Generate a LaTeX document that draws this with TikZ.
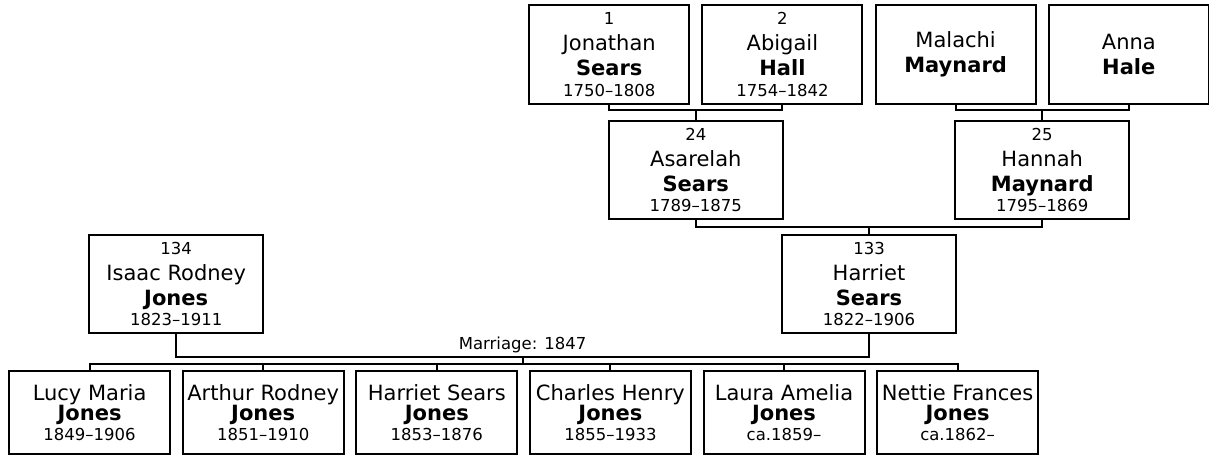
\documentclass[tikz,border=0pt]{standalone}
\usepackage{fontspec}
\setmainfont{DejaVu Sans}
\usepackage{tikz}
\usetikzlibrary{positioning}
\newcommand{\numfont}{\fontsize{16.5}{19}\selectfont}
\tikzset{
  person/.style={rectangle, draw=black, line width=2pt, align=center,
    inner sep=0pt, outer sep=0pt, minimum width=174pt, minimum height=98pt,
    font=\fontsize{21}{25}\selectfont},
  elder/.style={person, minimum width=160pt, minimum height=99pt},
  child/.style={person, minimum width=161pt, minimum height=83pt,
    font=\fontsize{21}{20.3}\selectfont},
  link/.style={line width=2pt, color=black}
}

\begin{document}
\begin{tikzpicture}[x=1pt, y=1pt]
  \useasboundingbox (0,0) rectangle (1209,-456);

  % Great-grandparents
  \node[elder] (jsears) at (609.2,-54.5) {\numfont 1\\[1pt] Jonathan\\ \textbf{Sears}\\[-4.5pt] \numfont 1750--1808};
  \node[elder, right=13.2pt of jsears] (ahall) {\numfont 2\\[1pt] Abigail\\ \textbf{Hall}\\[-4.5pt] \numfont 1754--1842};
  \node[elder, right=13.2pt of ahall] (mmaynard) {Malachi\\ \textbf{Maynard}};
  \node[elder, right=13.2pt of mmaynard] (ahale) {Anna\\ \textbf{Hale}};

  % Grandparents
  \node[person] (asears) at (695.8,-170) {\numfont 24\\[1pt] Asarelah\\ \textbf{Sears}\\[-4.5pt] \numfont 1789--1875};
  \node[person] (hmaynard) at (1042.2,-170) {\numfont 25\\[1pt] Hannah\\ \textbf{Maynard}\\[-4.5pt] \numfont 1795--1869};

  % Parents
  \node[person] (ijones) at (176.2,-284) {\numfont 134\\[1pt] Isaac Rodney\\ \textbf{Jones}\\[-4.5pt] \numfont 1823--1911};
  \node[person] (hsears) at (869,-284) {\numfont 133\\[1pt] Harriet\\ \textbf{Sears}\\[-4.5pt] \numfont 1822--1906};

  % Children
  \node[child] (kid1) at (89.6,-412.5) {Lucy Maria\\ \textbf{Jones}\\ \numfont 1849--1906};
  \node[child, right=12.6pt of kid1] (kid2) {Arthur Rodney\\ \textbf{Jones}\\ \numfont 1851--1910};
  \node[child, right=12.6pt of kid2] (kid3) {Harriet Sears\\ \textbf{Jones}\\ \numfont 1853--1876};
  \node[child, right=12.6pt of kid3] (kid4) {Charles Henry\\ \textbf{Jones}\\ \numfont 1855--1933};
  \node[child, right=12.6pt of kid4] (kid5) {Laura Amelia\\ \textbf{Jones}\\ \numfont ca.1859--};
  \node[child, right=12.6pt of kid5] (kid6) {Nettie Frances\\ \textbf{Jones}\\ \numfont ca.1862--};

  % Connections
  \draw[link] (jsears.south) -- ++(0,-6) -| (ahall.south);
  \draw[link] (asears.north) -- ++(0,11);
  \draw[link] (mmaynard.south) -- ++(0,-6) -| (ahale.south);
  \draw[link] (hmaynard.north) -- ++(0,11);

  \draw[link] (asears.south) -- ++(0,-8) -| (hmaynard.south);
  \draw[link] (hsears.north) -- ++(0,8);

  \draw[link] (ijones.south) -- ++(0,-24) coordinate (wedl)
    -- node[midway, above=3pt, inner sep=0pt, font=\numfont] (wedlbl) {Marriage: 1847} (wedl -| hsears.south)
    -- (hsears.south);
  \draw[link] (wedlbl.south |- wedl) -- ++(0,-7);

  \draw[link] (kid1.north) -- ++(0,7) -| (kid6.north);
  \foreach \k in {2,...,5}
    \draw[link] (kid\k.north) -- ++(0,7);
\end{tikzpicture}
\end{document}
